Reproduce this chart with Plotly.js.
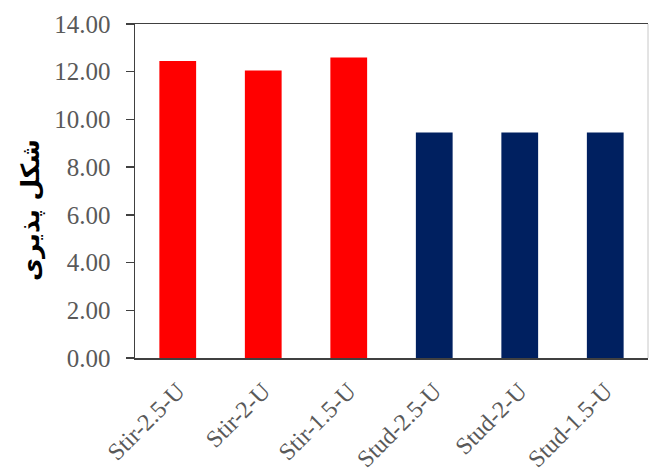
<!DOCTYPE html>
<html>
<head>
<meta charset="utf-8">
<script src="https://cdn.plot.ly/plotly-3.0.1.min.js"></script>
<style>html,body{margin:0;padding:0;background:#fff;}#chart{width:649px;height:475px;}</style>
</head>
<body>
<div id="chart"></div>
<script>
const categories = ["Stir-2.5-U", "Stir-2-U", "Stir-1.5-U", "Stud-2.5-U", "Stud-2-U", "Stud-1.5-U"];
const values = [12.45, 12.05, 12.6, 9.45, 9.45, 9.45];
const barColors = ["#FF0000", "#FF0000", "#FF0000", "#002060", "#002060", "#002060"];
const yTitle = "شکل پذیری";

const trace = {
  type: "bar",
  x: categories,
  y: values,
  marker: {color: barColors, line: {width: 0}},
  hoverinfo: "skip"
};

const layout = {
  width: 649,
  height: 475,
  margin: {l: 135, r: 1, t: 24, b: 117},
  paper_bgcolor: "#fff",
  plot_bgcolor: "#fff",
  showlegend: false,
  bargap: 0.57,
  font: {family: "Liberation Serif, Times New Roman, serif", color: "#595959"},
  xaxis: {
    type: "category",
    showline: true,
    linecolor: "#404040",
    linewidth: 1.5,
    mirror: true,
    ticks: "",
    tickangle: -45,
    ticklabelstandoff: 8,
    tickfont: {size: 24, color: "#595959"},
    showgrid: false,
    zeroline: false
  },
  yaxis: {
    range: [0, 14],
    dtick: 2,
    tickformat: ".2f",
    showline: true,
    linecolor: "#404040",
    linewidth: 1.5,
    ticks: "outside",
    ticklen: 8,
    tickcolor: "#404040",
    tickwidth: 1.5,
    ticklabelstandoff: 10,
    tickfont: {size: 25, color: "#595959"},
    showgrid: false,
    zeroline: false
  },
  shapes: [{
    type: "line", xref: "paper", yref: "paper",
    x0: 1, x1: 1, y0: 0, y1: 1,
    line: {color: "#c8c8c8", width: 1}
  }],
  annotations: [{
    text: "<b>" + yTitle + "</b>",
    xref: "paper", yref: "paper",
    x: -0.203, y: 0.443,
    xanchor: "center", yanchor: "middle",
    textangle: -90,
    showarrow: false,
    font: {family: "DejaVu Sans, Noto Sans, sans-serif", size: 25, color: "#000"}
  }]
};

Plotly.newPlot("chart", [trace], layout, {displayModeBar: false, staticPlot: true});
</script>
</body>
</html>
